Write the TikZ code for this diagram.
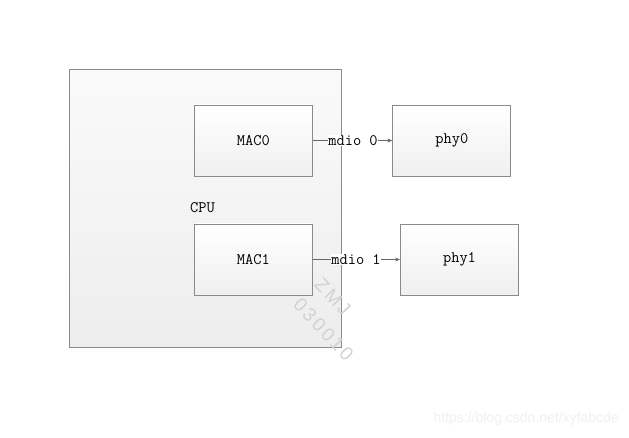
\documentclass[tikz,border=0pt]{standalone}
\usepackage{fontspec}
\setsansfont{Liberation Sans}
\usetikzlibrary{arrows.meta}
\definecolor{edgec}{HTML}{8A8A8A}
\definecolor{linec}{HTML}{666666}
\definecolor{wmc}{HTML}{D2D2D2}
\tikzset{
  txtf/.style={font=\ttfamily\fontsize{16}{18}\selectfont},
  blk/.style={draw=edgec, line width=0.9pt, top color=white, bottom color=black!6, minimum width=118pt, minimum height=71pt, inner sep=0pt, txtf},
  cpubox/.style={draw=edgec, line width=1pt, top color=black!2, bottom color=black!7},
  conn/.style={draw=linec, line width=0.8pt, -{Stealth[length=5pt,width=4pt]}},
  lbl/.style={fill=white, inner sep=0.5pt, txtf},
  wm/.style={text=wmc, font=\sffamily\fontsize{19}{20}\selectfont\addfontfeature{LetterSpace=15}, inner sep=0pt, anchor=west, rotate=-47}
}
\begin{document}
\begin{tikzpicture}[x=1pt,y=-1pt]
\useasboundingbox (0,0) rectangle (629,438);
\fill[white] (0,0) rectangle (629,438);
% CPU container
\node[cpubox, minimum width=272pt, minimum height=277pt, anchor=north west, inner sep=0pt] (cpu) at (69,69.5) {};
\node[txtf, anchor=west, inner sep=0pt] (cpul) at (190,207.5) {CPU};
% blocks
\node[blk] (mac0) at (253.3,140.5) {MAC0};
\node[blk] (mac1) at (253.3,259.5) {MAC1};
\node[blk] (phy0) at (451.8,140.5) {phy0};
\node[blk] (phy1) at (459.5,259.5) {phy1};
% connectors
\node[lbl] (l0) at (353,140.5) {mdio 0};
\node[lbl] (l1) at (356,259.5) {mdio 1};
\draw[draw=linec, line width=0.8pt] (mac0.east) -- (l0.west);
\draw[conn] (l0.east) -- (phy0.west);
\draw[draw=linec, line width=0.8pt] (mac1.east) -- (l1.west);
\draw[conn] (l1.east) -- (phy1.west);
% watermarks
\node[wm] (wm0) at (318,281) {ZMJ};
\node[wm] (wm1) at (297,301) {030010};
\node[text=black!6, font=\sffamily\fontsize{14}{15}\selectfont, anchor=east, inner sep=0pt] (wm2) at (619,419) {https://blog.csdn.net/xyfabcde};
\end{tikzpicture}
\end{document}
